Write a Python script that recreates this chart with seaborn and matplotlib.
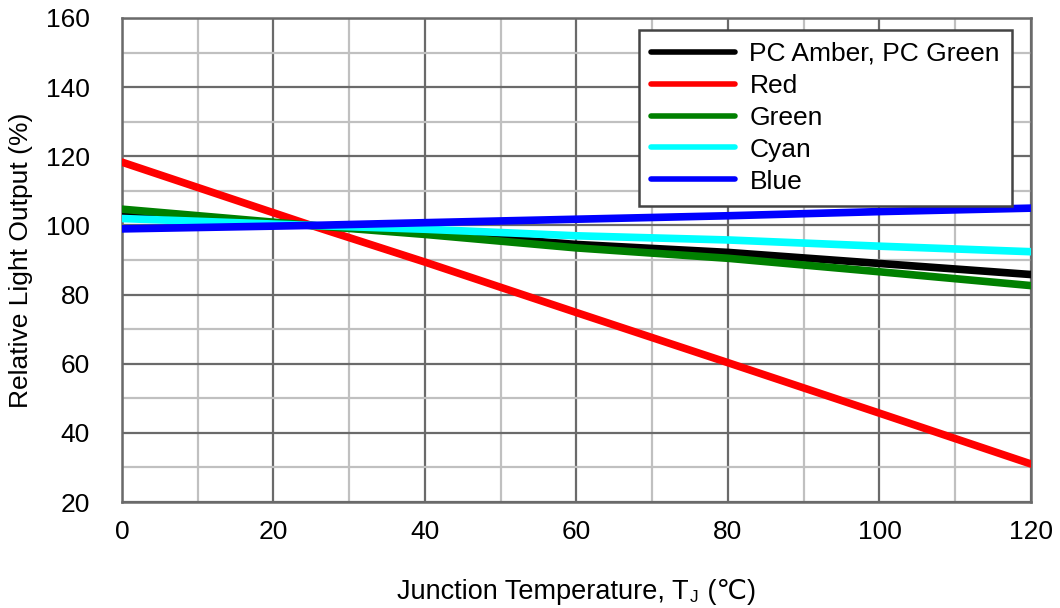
import matplotlib
matplotlib.use("Agg")
import matplotlib.pyplot as plt
from matplotlib.ticker import MultipleLocator
from matplotlib.offsetbox import TextArea, HPacker, AnchoredOffsetbox
import seaborn as sns
import pandas as pd

# Relative light output vs. junction temperature
temps = [0, 25, 40, 60, 80, 100, 120]
pc_amber_green = [103.0, 100.0, 97.9, 94.5, 92.2, 89.0, 85.8]
red = [118.3, 100.0, 89.4, 74.8, 60.3, 45.7, 31.0]
green = [104.7, 100.0, 97.4, 93.5, 90.5, 86.6, 82.6]
cyan = [102.0, 100.0, 98.9, 97.0, 95.8, 94.0, 92.4]
blue = [99.0, 100.0, 100.8, 101.8, 102.8, 104.0, 105.0]

series_names = ["PC Amber, PC Green", "Red", "Green", "Cyan", "Blue"]
series_values = [pc_amber_green, red, green, cyan, blue]
series_colors = ["#000000", "#ff0000", "#008000", "#00ffff", "#0000ff"]

rows = []
for name, vals in zip(series_names, series_values):
    for t, v in zip(temps, vals):
        rows.append({"Tj": t, "Output": v, "Series": name})
df = pd.DataFrame(rows)

sns.set_theme(style="white")
FAMILY = ["Liberation Sans", "DejaVu Sans"]
plt.rcParams["font.family"] = FAMILY
plt.rcParams["text.color"] = "black"
plt.rcParams["axes.labelcolor"] = "black"
plt.rcParams["xtick.color"] = "black"
plt.rcParams["ytick.color"] = "black"

FS = 19

fig = plt.figure(figsize=(10.6, 6.08), dpi=100)
ax = fig.add_axes([0.1151, 0.1743, 0.8575, 0.7961])

sns.lineplot(data=df, x="Tj", y="Output", hue="Series", hue_order=series_names,
             palette=dict(zip(series_names, series_colors)), linewidth=5.5,
             ax=ax, zorder=3)

ax.set_xlim(0, 120)
ax.set_ylim(20, 160)
ax.xaxis.set_major_locator(MultipleLocator(20))
ax.xaxis.set_minor_locator(MultipleLocator(10))
ax.yaxis.set_major_locator(MultipleLocator(20))
ax.yaxis.set_minor_locator(MultipleLocator(10))
ax.grid(which="minor", color="#c0c0c0", linewidth=1.6, zorder=0)
ax.grid(which="major", color="#6a6a6a", linewidth=1.6, zorder=1)
ax.set_axisbelow(True)
for s in ax.spines.values():
    s.set_color("#6a6a6a")
    s.set_linewidth(1.8)
ax.tick_params(axis="x", which="both", length=0, labelsize=FS, pad=13, labelcolor="black")
ax.tick_params(axis="y", which="both", length=0, labelsize=FS, pad=23, labelcolor="black")

# x label with a subscript J and the degree-Celsius sign, centred under the axes
ax.set_xlabel("")
main_props = dict(fontsize=FS * 1.03, family=FAMILY, color="black")
parts = HPacker(children=[
    TextArea("Junction Temperature, T", textprops=main_props),
    TextArea("J", textprops=dict(fontsize=FS * 0.65, family=FAMILY, color="black")),
    TextArea(" (\u2103)", textprops=main_props),
], align="bottom", pad=0, sep=1)
xlab = AnchoredOffsetbox(loc="center", child=parts, pad=0, frameon=False,
                         bbox_to_anchor=(0.5436, 0.027), bbox_transform=fig.transFigure,
                         borderpad=0)
fig.add_artist(xlab)

ax.set_ylabel("Relative Light Output (%)", fontsize=FS, labelpad=9.5, color="black")

leg = ax.legend(loc="upper right", bbox_to_anchor=(0.979, 0.975), fontsize=FS,
                frameon=True, fancybox=False, handlelength=3.2, handletextpad=0.55,
                labelspacing=0.3, borderpad=0.45, borderaxespad=0)
leg.get_frame().set_edgecolor("#444444")
leg.get_frame().set_linewidth(1.8)
leg.get_frame().set_alpha(1)
for line in leg.get_lines():
    line.set_linewidth(4)
for txt in leg.get_texts():
    txt.set_color("black")
leg.set_zorder(5)

fig.savefig("out.png", dpi=100)
